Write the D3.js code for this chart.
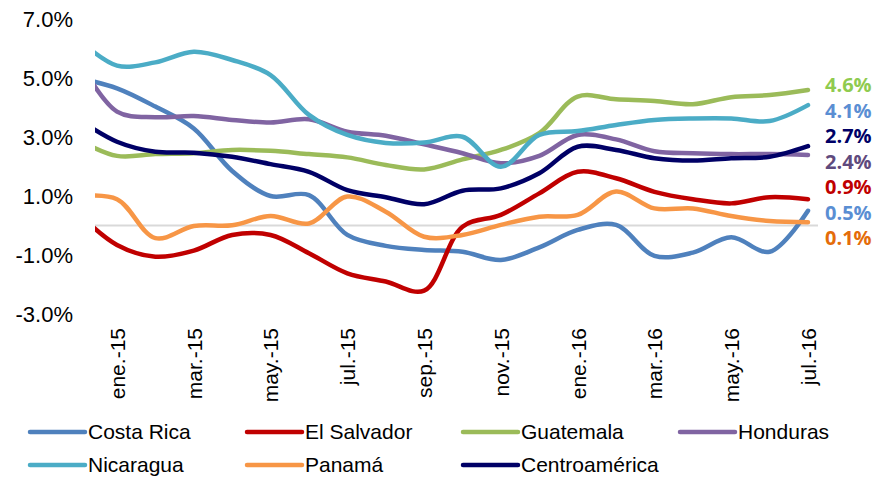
<!DOCTYPE html>
<html>
<head>
<meta charset="utf-8">
<script src="https://cdn.jsdelivr.net/npm/d3@7/dist/d3.min.js"></script>
<style>
  html, body { margin: 0; padding: 0; background: #fff; }
  svg { display: block; }
</style>
</head>
<body>
<svg id="chart" width="885" height="483"></svg>
<script>
// ---- data ----
const months = ["dic.-14","ene.-15","feb.-15","mar.-15","abr.-15","may.-15","jun.-15","jul.-15","ago.-15","sep.-15","oct.-15","nov.-15","dic.-15","ene.-16","feb.-16","mar.-16","abr.-16","may.-16","jun.-16","jul.-16"];
const tickLabels = ["ene.-15","mar.-15","may.-15","jul.-15","sep.-15","nov.-15","ene.-16","mar.-16","may.-16","jul.-16"];
const yTicks = [-3, -1, 1, 3, 5, 7];

const seriesNames = ["Costa Rica","El Salvador","Guatemala","Honduras","Nicaragua","Panamá","Centroamérica"];
const costaRica     = [5.0, 4.65, 4.03, 3.29, 1.85, 1.0, 1.03, -0.32, -0.69, -0.83, -0.89, -1.17, -0.74, -0.15, 0.02, -1.03, -0.92, -0.4, -0.89, 0.5];
const elSalvador    = [0.4, -0.66, -1.06, -0.85, -0.32, -0.32, -0.94, -1.62, -1.9, -2.21, -0.04, 0.36, 1.09, 1.82, 1.6, 1.14, 0.89, 0.75, 0.96, 0.89];
const guatemala     = [2.9, 2.36, 2.42, 2.45, 2.56, 2.53, 2.42, 2.31, 2.05, 1.9, 2.24, 2.56, 3.13, 4.37, 4.28, 4.22, 4.11, 4.35, 4.42, 4.59];
const honduras      = [5.6, 3.86, 3.67, 3.71, 3.58, 3.49, 3.6, 3.18, 3.04, 2.75, 2.45, 2.11, 2.36, 3.07, 2.92, 2.52, 2.45, 2.42, 2.42, 2.39];
const nicaragua     = [6.3, 5.42, 5.53, 5.89, 5.61, 5.10, 3.75, 3.07, 2.8, 2.81, 3.01, 1.99, 3.07, 3.2, 3.41, 3.58, 3.63, 3.63, 3.54, 4.08];
const panama        = [1.0, 0.89, -0.43, -0.02, 0.01, 0.32, 0.07, 0.98, 0.47, -0.38, -0.32, 0.02, 0.3, 0.36, 1.15, 0.58, 0.58, 0.32, 0.15, 0.11];
const centroamerica = [3.6, 2.84, 2.5, 2.47, 2.33, 2.08, 1.82, 1.2, 0.96, 0.72, 1.18, 1.26, 1.77, 2.67, 2.56, 2.28, 2.2, 2.28, 2.33, 2.69];

const seriesValues = [costaRica, elSalvador, guatemala, honduras, nicaragua, panama, centroamerica];
const seriesColors = ["#4F81BD","#C00000","#9BBB59","#8064A2","#4BACC6","#F79646","#000066"];

// end-of-line value labels (order top to bottom)
const endLabelSeries = ["Guatemala","Nicaragua","Centroamérica","Honduras","El Salvador","Costa Rica","Panamá"];
const endLabelColors = ["#8FCB4F","#5A8ED3","#000066","#5F4A7D","#C00000","#5A8ED3","#E46C0A"];

// ---- layout ----
const svg = d3.select("#chart");
const plotLeft = 95, plotRight = 818;
const x = d3.scalePoint().domain(months).range([78.6, 808]);
const y = d3.scaleLinear().domain([-3, 7]).range([314, 19]);

svg.append("defs").append("clipPath").attr("id", "plotclip")
  .append("rect").attr("x", plotLeft).attr("y", 0).attr("width", 885 - plotLeft).attr("height", 400);

// zero line
svg.append("line")
  .attr("x1", plotLeft).attr("x2", plotRight)
  .attr("y1", y(0)).attr("y2", y(0))
  .attr("stroke", "#D9D9D9").attr("stroke-width", 2);

// y axis labels
const yAxis = d3.axisLeft(y).tickValues(yTicks).tickSize(0).tickPadding(22)
  .tickFormat(d => d.toFixed(1) + "%");
const gy = svg.append("g").attr("transform", `translate(${plotLeft},0)`).call(yAxis);
gy.select(".domain").remove();
gy.selectAll("text").attr("font-family", "Liberation Sans, Arial, sans-serif")
  .attr("font-size", 22).attr("fill", "#000");

// x axis labels
const xAxis = d3.axisBottom(x).tickValues(tickLabels).tickSize(0);
const gx = svg.append("g").attr("transform", `translate(0,328)`).call(xAxis);
gx.select(".domain").remove();
gx.selectAll("text")
  .attr("font-family", "Liberation Sans, Arial, sans-serif")
  .attr("font-size", 21).attr("fill", "#000")
  .attr("transform", "rotate(-90)")
  .attr("text-anchor", "end")
  .attr("x", 0).attr("y", 0).attr("dy", "0.35em").attr("dx", 0);

// lines
const line = d3.line()
  .x((d, i) => x(months[i]))
  .y(d => y(d))
  .curve(d3.curveCatmullRom.alpha(0.5));

const gl = svg.append("g").attr("clip-path", "url(#plotclip)");
seriesValues.forEach((vals, k) => {
  gl.append("path")
    .attr("d", line(vals))
    .attr("fill", "none")
    .attr("stroke", seriesColors[k])
    .attr("stroke-width", 4.5)
    .attr("stroke-linecap", "round")
    .attr("stroke-linejoin", "round");
});

// end labels with simple spacing
const last = months[months.length - 1];
const labelData = endLabelSeries.map((name, j) => {
  const k = seriesNames.indexOf(name);
  const v = seriesValues[k][seriesValues[k].length - 1];
  return { v, text: v.toFixed(1) + "%", color: endLabelColors[j], ty: y(v) };
});
// spread labels: keep order, enforce min gap, centred around their anchors
const gap = 25.5;
const start = 85;
labelData.forEach((d, j) => { d.py = start + j * gap; });
svg.append("g").selectAll("text").data(labelData).join("text")
  .attr("x", x(last) + 17)
  .attr("y", d => d.py)
  .attr("dy", "0.35em")
  .attr("font-family", "Open Sans, sans-serif")
  .attr("font-weight", "bold")
  .attr("font-size", 20)
  .attr("fill", d => d.color)
  .text(d => d.text);

// legend
const legendCols = [30, 247, 463, 680];
const legendRows = [432, 465];
const lg = svg.append("g");
seriesNames.forEach((name, k) => {
  const cx = legendCols[k % 4], cy = legendRows[Math.floor(k / 4)];
  lg.append("line").attr("x1", cx).attr("x2", cx + 55).attr("y1", cy).attr("y2", cy)
    .attr("stroke", seriesColors[k]).attr("stroke-width", 4.5).attr("stroke-linecap", "round");
  lg.append("text").attr("x", cx + 58).attr("y", cy).attr("dy", "0.35em")
    .attr("font-family", "Liberation Sans, Arial, sans-serif").attr("font-size", 21)
    .attr("fill", "#000").text(name);
});
</script>
</body>
</html>
